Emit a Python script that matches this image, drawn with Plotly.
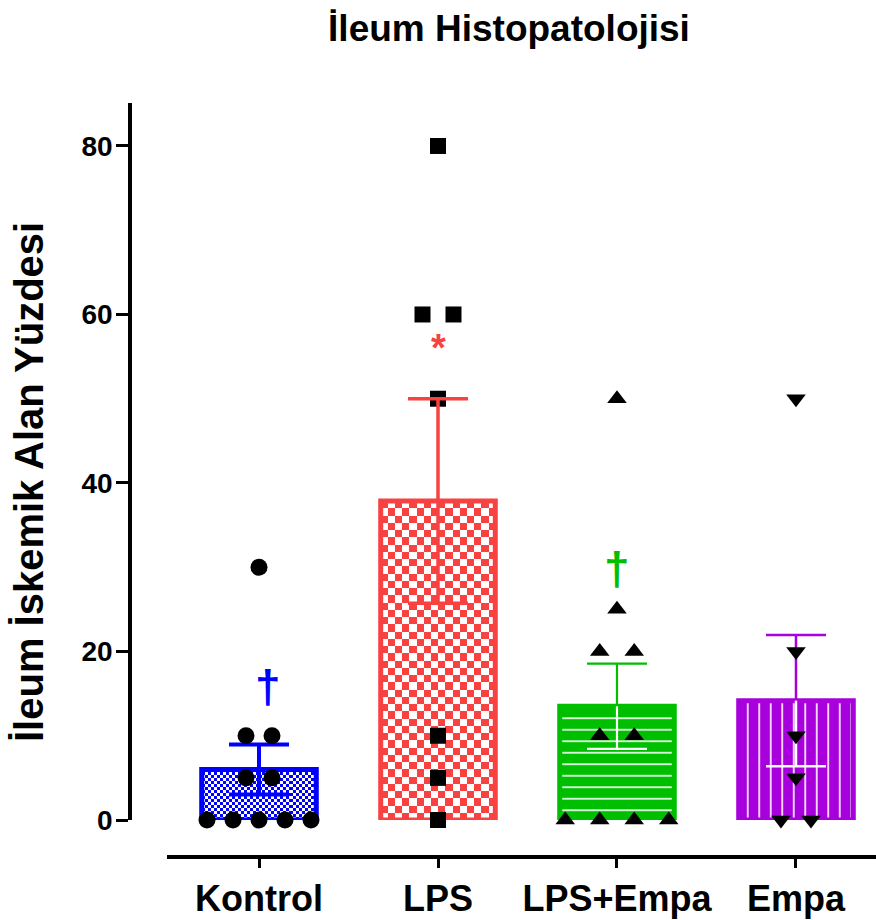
import numpy as np
import plotly.graph_objects as go

# ---- data -------------------------------------------------------------
groups = ["Kontrol", "LPS", "LPS+Empa", "Empa"]
kontrol = [30, 10, 10, 5, 5, 0, 0, 0, 0, 0]
lps = [80, 60, 60, 50, 10, 5, 0]
lps_empa = [50, 25, 20, 20, 10, 10, 0, 0, 0, 0]
empa = [50, 20, 10, 5, 0, 0]
y_ticks = [0, 20, 40, 60, 80]
sig_marks = ["†", "*", "†", ""]

series = [kontrol, lps, lps_empa, empa]

# ---- styling ----------------------------------------------------------
colors = ["#0000FF", "#F84242", "#00BE00", "#A800DC"]
symbols = ["circle", "square", "triangle-up", "triangle-down"]
marker_sizes = [17, 16, 17, 17]
swarm_px = [26, 31, 34.5, 30]          # horizontal spacing of tied points
err_width = [4, 3.5, 2.2, 2.5]
lower_err_color = ["#0000FF", "#F84242", "white", "white"]
checker_px = [3.0, 7.3, None, None]     # checkerboard cell size
mark_style = [  # (y, font size, xshift)
    (15.8, 46, 9),
    (56.0, 38, 0),
    (29.8, 46, 0),
    None,
]

W, H = 876, 920
ML, MR, MT, MB = 130, 0, 103, 63
plot_w, plot_h = W - ML - MR, H - MT - MB
y_off = 37                      # gap between y=0 and the category axis line
x_off = 37                      # gap between value axis and category axis start
x_range = [-0.514, 3.447]
y_range = [0, 85.1]
px_x = (plot_w - x_off) / (x_range[1] - x_range[0])
px_y = (plot_h - y_off) / (y_range[1] - y_range[0])
bar_w = 0.64
cap_half = 30 / px_x
font = "Liberation Sans, Arial, sans-serif"

means = [float(np.mean(s)) for s in series]
sems = [float(np.std(s, ddof=1) / np.sqrt(len(s))) for s in series]


def swarm_x(values, center, spacing):
    """Spread tied values symmetrically around the category centre."""
    xs = []
    counts = {}
    for v in values:
        counts[v] = counts.get(v, 0) + 1
    seen = {}
    for v in values:
        k = seen.get(v, 0)
        seen[v] = k + 1
        n = counts[v]
        xs.append(center + (k - (n - 1) / 2) * spacing / px_x)
    return xs


fig = go.Figure()

# bars (checkerboard fills drawn as small heatmaps under an outline bar)
for i, (m, col) in enumerate(zip(means, colors)):
    if checker_px[i]:
        cell = checker_px[i]
        nx = max(1, round(bar_w * px_x / cell))
        ny = max(1, round(m * px_y / cell))
        dx = bar_w / nx
        dy = m / ny
        z = [[(a + b) % 2 for a in range(nx)] for b in range(ny)]
        fig.add_trace(go.Heatmap(
            z=z, x0=i - bar_w / 2 + dx / 2, dx=dx, y0=dy / 2, dy=dy,
            colorscale=[[0, "white"], [1, col]], zmin=0, zmax=1,
            showscale=False, hoverinfo="skip", zsmooth=False,
        ))
        fig.add_trace(go.Bar(
            x=[i], y=[m], width=bar_w,
            marker=dict(color="rgba(0,0,0,0)", line=dict(color=col, width=5)),
            hoverinfo="skip", showlegend=False,
        ))
    else:
        shape = "-" if i == 2 else "|"
        fig.add_trace(go.Bar(
            x=[i], y=[m], width=bar_w,
            marker=dict(
                color=col, line=dict(color=col, width=5),
                pattern=dict(shape=shape, fgcolor="white", bgcolor=col,
                             size=11.5, solidity=0.14, fillmode="replace"),
            ),
            hoverinfo="skip", showlegend=False,
        ))


def add_errors(i):
    m, s, col = means[i], sems[i], colors[i]
    up, lo = m + s, m - s
    fig.add_trace(go.Scatter(
        x=[i, i, None, i - cap_half, i + cap_half],
        y=[m, up, None, up, up],
        mode="lines", line=dict(color=col, width=err_width[i]),
        hoverinfo="skip", showlegend=False, cliponaxis=False,
    ))
    fig.add_trace(go.Scatter(
        x=[i, i, None, i - cap_half, i + cap_half],
        y=[m, lo, None, lo, lo],
        mode="lines", line=dict(color=lower_err_color[i], width=err_width[i]),
        hoverinfo="skip", showlegend=False, cliponaxis=False,
    ))


for i in (0, 2, 3):
    add_errors(i)

# individual observations
for i, vals in enumerate(series):
    fig.add_trace(go.Scatter(
        x=swarm_x(vals, i, swarm_px[i]), y=vals, mode="markers",
        marker=dict(symbol=symbols[i], size=marker_sizes[i], color="black",
                    line=dict(width=0)),
        hoverinfo="skip", showlegend=False, cliponaxis=False,
    ))

add_errors(1)

# significance marks
for i, txt in enumerate(sig_marks):
    if not txt:
        continue
    yy, fs, xs = mark_style[i]
    fig.add_annotation(
        x=i, y=yy, text=txt, showarrow=False, xshift=xs,
        font=dict(family=font, size=fs, color=colors[i], weight="bold"),
        xanchor="center", yanchor="middle",
    )

# value axis title
fig.add_annotation(
    xref="paper", yref="paper", x=(29 - ML) / plot_w,
    y=(H - MB - 482) / plot_h,
    text="İleum İskemik Alan Yüzdesi", textangle=-90, showarrow=False,
    font=dict(family=font, size=40, color="black", weight="bold"),
    xanchor="center", yanchor="middle",
)

fig.update_layout(
    width=W, height=H,
    margin=dict(l=ML, r=MR, t=MT, b=MB, pad=0),
    paper_bgcolor="white", plot_bgcolor="white",
    showlegend=False, barmode="overlay",
    title=dict(
        text="İleum Histopatolojisi", x=509 / W, xanchor="center",
        y=1 - 28 / H, yanchor="middle", yref="container",
        font=dict(family=font, size=37, color="black", weight="bold"),
    ),
    xaxis=dict(
        domain=[x_off / plot_w, 1], range=x_range, anchor="free", position=0,
        tickmode="array", tickvals=list(range(len(groups))), ticktext=groups,
        showline=True, linecolor="black", linewidth=3.5,
        ticks="outside", ticklen=9, tickwidth=3, tickcolor="black",
        tickfont=dict(family=font, size=36, color="black", weight="bold"),
        showgrid=False, zeroline=False, fixedrange=True,
    ),
    yaxis=dict(
        domain=[y_off / plot_h, 1], range=y_range, anchor="free", position=0,
        tickmode="array", tickvals=y_ticks, ticktext=[str(t) for t in y_ticks],
        showline=True, linecolor="black", linewidth=3.5,
        ticks="outside", ticklen=12, tickwidth=3, tickcolor="black",
        tickfont=dict(family=font, size=28, color="black", weight="bold"),
        ticklabelstandoff=-2,
        showgrid=False, zeroline=False, fixedrange=True,
    ),
)

fig.write_html("out.html")
